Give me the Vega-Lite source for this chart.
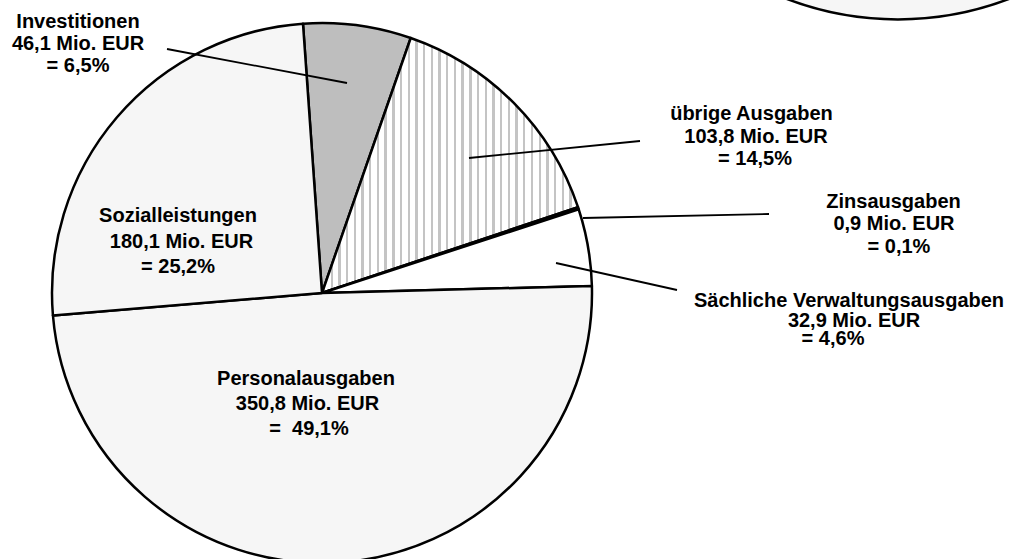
{
  "$schema": "https://vega.github.io/schema/vega-lite/v6.json",
  "width": 1015,
  "height": 559,
  "autosize": {"type": "none"},
  "padding": 0,
  "background": "white",
  "config": {"view": {"stroke": null}},
  "datasets": {
    "ausgaben": [
      {"kategorie": "Investitionen", "betrag": 46.1, "anteil": 6.5, "reihenfolge": 1},
      {"kategorie": "übrige Ausgaben", "betrag": 103.8, "anteil": 14.5, "reihenfolge": 2},
      {"kategorie": "Zinsausgaben", "betrag": 0.9, "anteil": 0.1, "reihenfolge": 3},
      {"kategorie": "Sächliche Verwaltungsausgaben", "betrag": 32.9, "anteil": 4.6, "reihenfolge": 4},
      {"kategorie": "Personalausgaben", "betrag": 350.8, "anteil": 49.1, "reihenfolge": 5},
      {"kategorie": "Sozialleistungen", "betrag": 180.1, "anteil": 25.2, "reihenfolge": 6}
    ],
    "beschriftung": [
      {"kategorie": "Investitionen", "zeile": "Investitionen", "x": -90.37, "y": 98.04},
      {"kategorie": "Investitionen", "zeile": "46,1 Mio. EUR", "x": -90.37, "y": 90.0},
      {"kategorie": "Investitionen", "zeile": "= 6,5%", "x": -90.37, "y": 81.96},
      {"kategorie": "übrige Ausgaben", "zeile": "übrige Ausgaben", "x": 159.07, "y": 64.07},
      {"kategorie": "übrige Ausgaben", "zeile": "103,8 Mio. EUR", "x": 160.74, "y": 55.44},
      {"kategorie": "übrige Ausgaben", "zeile": "= 14,5%", "x": 160.37, "y": 47.41},
      {"kategorie": "Zinsausgaben", "zeile": "Zinsausgaben", "x": 211.67, "y": 31.59},
      {"kategorie": "Zinsausgaben", "zeile": "0,9 Mio. EUR", "x": 211.85, "y": 23.33},
      {"kategorie": "Zinsausgaben", "zeile": "= 0,1%", "x": 213.7, "y": 14.7},
      {"kategorie": "Sächliche Verwaltungsausgaben", "zeile": "Sächliche Verwaltungsausgaben", "x": 195.19, "y": -5.07},
      {"kategorie": "Sächliche Verwaltungsausgaben", "zeile": "32,9 Mio. EUR", "x": 197.04, "y": -12.48},
      {"kategorie": "Sächliche Verwaltungsausgaben", "zeile": "= 4,6%", "x": 189.26, "y": -19.26},
      {"kategorie": "Sozialleistungen", "zeile": "Sozialleistungen", "x": -53.33, "y": 26.41},
      {"kategorie": "Sozialleistungen", "zeile": "180,1 Mio. EUR", "x": -52.04, "y": 16.56},
      {"kategorie": "Sozialleistungen", "zeile": "= 25,2%", "x": -53.33, "y": 7.3},
      {"kategorie": "Personalausgaben", "zeile": "Personalausgaben", "x": -5.93, "y": -34.07},
      {"kategorie": "Personalausgaben", "zeile": "350,8 Mio. EUR", "x": -5.37, "y": -43.33},
      {"kategorie": "Personalausgaben", "zeile": "= \u00a049,1%", "x": -4.81, "y": -52.59}
    ],
    "linien": [
      {"kategorie": "Investitionen", "x": -57.4, "y": 90.37, "x2": 9.26, "y2": 77.78},
      {"kategorie": "übrige Ausgaben", "x": 54.44, "y": 50.0, "x2": 117.78, "y2": 56.3},
      {"kategorie": "Zinsausgaben", "x": 96.67, "y": 27.78, "x2": 165.56, "y2": 29.26},
      {"kategorie": "Sächliche Verwaltungsausgaben", "x": 86.67, "y": 11.11, "x2": 131.48, "y2": 1.11}
    ]
  },
  "layer": [
    {
      "data": {"values": [{}]},
      "mark": {"type": "arc", "outerRadius": 312, "theta": 0, "theta2": 6.2832, "fill": "#f6f6f6", "stroke": "black", "strokeWidth": 2.5},
      "encoding": {
        "x": {"datum": 213.3, "type": "quantitative", "stack": null, "scale": {"domain": [-119.26, 256.67], "nice": false, "zero": false}, "axis": null},
        "y": {"datum": 216.9, "type": "quantitative", "stack": null, "scale": {"domain": [-98.52, 108.52], "nice": false, "zero": false}, "axis": null}
      }
    },
    {
      "data": {"name": "ausgaben"},
      "transform": [
        {"stack": "betrag", "groupby": [], "sort": [{"field": "reihenfolge", "order": "ascending"}], "offset": "normalize", "as": ["t0", "t1"]}
      ],
      "mark": {"type": "arc", "outerRadius": 270, "stroke": "black", "strokeWidth": 2.5, "strokeJoin": "round"},
      "encoding": {
        "x": {"datum": 0, "type": "quantitative", "stack": null, "scale": {"domain": [-119.26, 256.67], "nice": false, "zero": false}, "axis": null},
        "y": {"datum": 0, "type": "quantitative", "stack": null, "scale": {"domain": [-98.52, 108.52], "nice": false, "zero": false}, "axis": null},
        "theta": {"field": "t0", "type": "quantitative", "scale": {"domain": [0, 1], "range": [-0.0705, 6.2127]}},
        "theta2": {"field": "t1"},
        "fill": {
          "condition": {
            "test": "datum.kategorie === 'übrige Ausgaben'",
            "value": {
              "gradient": "linear", "x1": 0, "x2": 1, "y1": 0, "y2": 0,
              "stops": [
                {"offset": 0, "color": "#ffffff"},
                {"offset": 0.0035, "color": "#ffffff"}, {"offset": 0.0035, "color": "#c4c4c4"}, {"offset": 0.0125, "color": "#c4c4c4"}, {"offset": 0.0125, "color": "#ffffff"},
                {"offset": 0.0336, "color": "#ffffff"}, {"offset": 0.0336, "color": "#c4c4c4"}, {"offset": 0.0426, "color": "#c4c4c4"}, {"offset": 0.0426, "color": "#ffffff"},
                {"offset": 0.0637, "color": "#ffffff"}, {"offset": 0.0637, "color": "#c4c4c4"}, {"offset": 0.0727, "color": "#c4c4c4"}, {"offset": 0.0727, "color": "#ffffff"},
                {"offset": 0.0937, "color": "#ffffff"}, {"offset": 0.0937, "color": "#c4c4c4"}, {"offset": 0.1027, "color": "#c4c4c4"}, {"offset": 0.1027, "color": "#ffffff"},
                {"offset": 0.1238, "color": "#ffffff"}, {"offset": 0.1238, "color": "#c4c4c4"}, {"offset": 0.1328, "color": "#c4c4c4"}, {"offset": 0.1328, "color": "#ffffff"},
                {"offset": 0.1539, "color": "#ffffff"}, {"offset": 0.1539, "color": "#c4c4c4"}, {"offset": 0.1629, "color": "#c4c4c4"}, {"offset": 0.1629, "color": "#ffffff"},
                {"offset": 0.1840, "color": "#ffffff"}, {"offset": 0.1840, "color": "#c4c4c4"}, {"offset": 0.1930, "color": "#c4c4c4"}, {"offset": 0.1930, "color": "#ffffff"},
                {"offset": 0.2140, "color": "#ffffff"}, {"offset": 0.2140, "color": "#c4c4c4"}, {"offset": 0.2230, "color": "#c4c4c4"}, {"offset": 0.2230, "color": "#ffffff"},
                {"offset": 0.2441, "color": "#ffffff"}, {"offset": 0.2441, "color": "#c4c4c4"}, {"offset": 0.2531, "color": "#c4c4c4"}, {"offset": 0.2531, "color": "#ffffff"},
                {"offset": 0.2742, "color": "#ffffff"}, {"offset": 0.2742, "color": "#c4c4c4"}, {"offset": 0.2832, "color": "#c4c4c4"}, {"offset": 0.2832, "color": "#ffffff"},
                {"offset": 0.3043, "color": "#ffffff"}, {"offset": 0.3043, "color": "#c4c4c4"}, {"offset": 0.3133, "color": "#c4c4c4"}, {"offset": 0.3133, "color": "#ffffff"},
                {"offset": 0.3344, "color": "#ffffff"}, {"offset": 0.3344, "color": "#c4c4c4"}, {"offset": 0.3434, "color": "#c4c4c4"}, {"offset": 0.3434, "color": "#ffffff"},
                {"offset": 0.3644, "color": "#ffffff"}, {"offset": 0.3644, "color": "#c4c4c4"}, {"offset": 0.3734, "color": "#c4c4c4"}, {"offset": 0.3734, "color": "#ffffff"},
                {"offset": 0.3945, "color": "#ffffff"}, {"offset": 0.3945, "color": "#c4c4c4"}, {"offset": 0.4035, "color": "#c4c4c4"}, {"offset": 0.4035, "color": "#ffffff"},
                {"offset": 0.4246, "color": "#ffffff"}, {"offset": 0.4246, "color": "#c4c4c4"}, {"offset": 0.4336, "color": "#c4c4c4"}, {"offset": 0.4336, "color": "#ffffff"},
                {"offset": 0.4547, "color": "#ffffff"}, {"offset": 0.4547, "color": "#c4c4c4"}, {"offset": 0.4637, "color": "#c4c4c4"}, {"offset": 0.4637, "color": "#ffffff"},
                {"offset": 0.4847, "color": "#ffffff"}, {"offset": 0.4847, "color": "#c4c4c4"}, {"offset": 0.4937, "color": "#c4c4c4"}, {"offset": 0.4937, "color": "#ffffff"},
                {"offset": 0.5148, "color": "#ffffff"}, {"offset": 0.5148, "color": "#c4c4c4"}, {"offset": 0.5238, "color": "#c4c4c4"}, {"offset": 0.5238, "color": "#ffffff"},
                {"offset": 0.5449, "color": "#ffffff"}, {"offset": 0.5449, "color": "#c4c4c4"}, {"offset": 0.5539, "color": "#c4c4c4"}, {"offset": 0.5539, "color": "#ffffff"},
                {"offset": 0.5750, "color": "#ffffff"}, {"offset": 0.5750, "color": "#c4c4c4"}, {"offset": 0.5840, "color": "#c4c4c4"}, {"offset": 0.5840, "color": "#ffffff"},
                {"offset": 0.6051, "color": "#ffffff"}, {"offset": 0.6051, "color": "#c4c4c4"}, {"offset": 0.6141, "color": "#c4c4c4"}, {"offset": 0.6141, "color": "#ffffff"},
                {"offset": 0.6351, "color": "#ffffff"}, {"offset": 0.6351, "color": "#c4c4c4"}, {"offset": 0.6441, "color": "#c4c4c4"}, {"offset": 0.6441, "color": "#ffffff"},
                {"offset": 0.6652, "color": "#ffffff"}, {"offset": 0.6652, "color": "#c4c4c4"}, {"offset": 0.6742, "color": "#c4c4c4"}, {"offset": 0.6742, "color": "#ffffff"},
                {"offset": 0.6953, "color": "#ffffff"}, {"offset": 0.6953, "color": "#c4c4c4"}, {"offset": 0.7043, "color": "#c4c4c4"}, {"offset": 0.7043, "color": "#ffffff"},
                {"offset": 0.7254, "color": "#ffffff"}, {"offset": 0.7254, "color": "#c4c4c4"}, {"offset": 0.7344, "color": "#c4c4c4"}, {"offset": 0.7344, "color": "#ffffff"},
                {"offset": 0.7554, "color": "#ffffff"}, {"offset": 0.7554, "color": "#c4c4c4"}, {"offset": 0.7644, "color": "#c4c4c4"}, {"offset": 0.7644, "color": "#ffffff"},
                {"offset": 0.7855, "color": "#ffffff"}, {"offset": 0.7855, "color": "#c4c4c4"}, {"offset": 0.7945, "color": "#c4c4c4"}, {"offset": 0.7945, "color": "#ffffff"},
                {"offset": 0.8156, "color": "#ffffff"}, {"offset": 0.8156, "color": "#c4c4c4"}, {"offset": 0.8246, "color": "#c4c4c4"}, {"offset": 0.8246, "color": "#ffffff"},
                {"offset": 0.8457, "color": "#ffffff"}, {"offset": 0.8457, "color": "#c4c4c4"}, {"offset": 0.8547, "color": "#c4c4c4"}, {"offset": 0.8547, "color": "#ffffff"},
                {"offset": 0.8758, "color": "#ffffff"}, {"offset": 0.8758, "color": "#c4c4c4"}, {"offset": 0.8848, "color": "#c4c4c4"}, {"offset": 0.8848, "color": "#ffffff"},
                {"offset": 0.9058, "color": "#ffffff"}, {"offset": 0.9058, "color": "#c4c4c4"}, {"offset": 0.9148, "color": "#c4c4c4"}, {"offset": 0.9148, "color": "#ffffff"},
                {"offset": 0.9359, "color": "#ffffff"}, {"offset": 0.9359, "color": "#c4c4c4"}, {"offset": 0.9449, "color": "#c4c4c4"}, {"offset": 0.9449, "color": "#ffffff"},
                {"offset": 0.9660, "color": "#ffffff"}, {"offset": 0.9660, "color": "#c4c4c4"}, {"offset": 0.9750, "color": "#c4c4c4"}, {"offset": 0.9750, "color": "#ffffff"},
                {"offset": 1, "color": "#ffffff"}
              ]
            }
          },
          "field": "kategorie",
          "type": "nominal",
          "scale": {
            "domain": ["Investitionen", "übrige Ausgaben", "Zinsausgaben", "Sächliche Verwaltungsausgaben", "Personalausgaben", "Sozialleistungen"],
            "range": ["#bebebe", "#ebebeb", "#000000", "#ffffff", "#f6f6f6", "#f6f6f6"]
          },
          "legend": null
        }
      }
    },
    {
      "data": {"name": "linien"},
      "mark": {"type": "rule", "color": "black", "strokeWidth": 1.8},
      "encoding": {
        "x": {"field": "x", "type": "quantitative", "scale": {"domain": [-119.26, 256.67], "nice": false, "zero": false}, "axis": null},
        "y": {"field": "y", "type": "quantitative", "scale": {"domain": [-98.52, 108.52], "nice": false, "zero": false}, "axis": null},
        "x2": {"field": "x2"},
        "y2": {"field": "y2"}
      }
    },
    {
      "data": {"name": "beschriftung"},
      "mark": {"type": "text", "font": "Liberation Sans", "fontWeight": "bold", "fontSize": 20, "align": "center", "baseline": "alphabetic", "color": "black"},
      "encoding": {
        "x": {"field": "x", "type": "quantitative", "scale": {"domain": [-119.26, 256.67], "nice": false, "zero": false}, "axis": null},
        "y": {"field": "y", "type": "quantitative", "scale": {"domain": [-98.52, 108.52], "nice": false, "zero": false}, "axis": null},
        "text": {"field": "zeile", "type": "nominal"}
      }
    }
  ]
}
